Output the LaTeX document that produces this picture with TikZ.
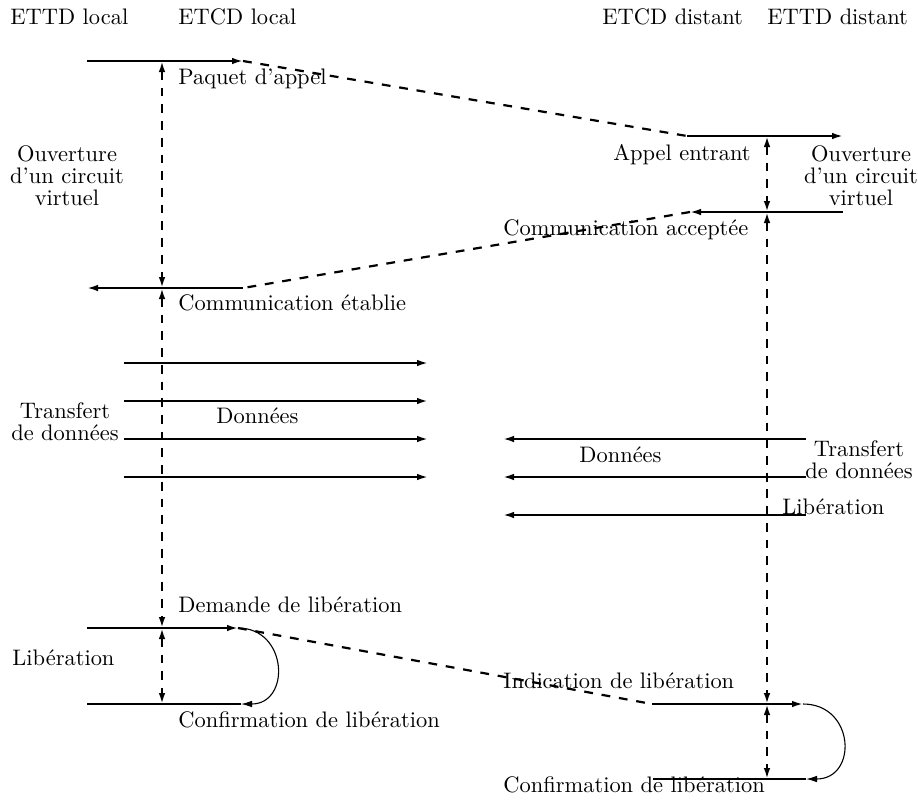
\documentclass[tikz,border=0pt]{standalone}
\usetikzlibrary{arrows.meta}
\begin{document}
\begin{tikzpicture}[x=0.4545pt,y=-0.4545pt,
  every node/.style={inner sep=0pt, font=\fontsize{10.2}{10}\selectfont},
  lbl/.style={anchor=base west},
  lblr/.style={anchor=base east},
  grp/.style={anchor=north, align=center},
  msg/.style={line width=0.9pt},
  thick msg/.style={line width=1.3pt},
  tip/.style={-{Latex[length=5pt,width=3pt]}},
  wait/.style={line width=1.3pt, dash pattern=on 4pt off 3.6pt,
    {Latex[length=5pt,width=3pt]}-{Latex[length=5pt,width=3pt]}},
  link/.style={line width=1pt, dash pattern=on 4pt off 4pt},
  loopc/.style={line width=0.5pt, -{Latex[length=5pt,width=3pt]}}
]
\useasboundingbox (0,0) rectangle (918,806);

% headers
\node[lbl] (h1) at (10,24) {ETTD local};
\node[lbl] (h2) at (178,24) {ETCD local};
\node[lbl] (h3) at (602,24) {ETCD distant};
\node[lbl] (h4) at (767,24) {ETTD distant};

% coordinates
\coordinate (a1) at (87,61);   \coordinate (a2) at (243,61);
\coordinate (b1) at (687,136); \coordinate (b2) at (843,136);
\coordinate (c1) at (843,212); \coordinate (c2) at (690,212);
\coordinate (d1) at (243,288); \coordinate (d2) at (87,288);
\coordinate (L0) at (162,61);  \coordinate (L1) at (162,288);
\coordinate (L2) at (162,628); \coordinate (L3) at (162,704);
\coordinate (R0) at (767,136); \coordinate (R1) at (767,212);
\coordinate (R2) at (767,704); \coordinate (R3) at (767,779);
\coordinate (e1) at (87,628);  \coordinate (e2) at (238,628);
\coordinate (f1) at (87,704);  \coordinate (f2) at (241,704);
\coordinate (g1) at (652,704); \coordinate (g2) at (803,704);
\coordinate (k1) at (653,779); \coordinate (k2) at (806,779);
% data
\coordinate (p1s) at (124,363); \coordinate (p1e) at (428,363);
\coordinate (p2s) at (124,401); \coordinate (p2e) at (428,401);
\coordinate (p3s) at (124,439); \coordinate (p3e) at (428,439);
\coordinate (p4s) at (124,477); \coordinate (p4e) at (428,477);
\coordinate (q1s) at (806,439); \coordinate (q1e) at (503,439);
\coordinate (q2s) at (806,477); \coordinate (q2e) at (503,477);
\coordinate (q3s) at (806,515); \coordinate (q3e) at (503,515);

% call set-up
\draw[msg,tip] (a1) -- (a2);
\draw[link] (a2) -- (b1);
\draw[msg,tip] (b1) -- (b2);
\draw[msg,tip] (c1) -- (c2);
\draw[link] (c2) -- (d1);
\draw[msg,tip] (d1) -- (d2);

% waiting lines
\draw[wait] (L0) -- (L1);
\draw[wait] (L1) -- (L2);
\draw[wait] (L2) -- (L3);
\draw[wait] (R0) -- (R1);
\draw[wait] (R1) -- (R2);
\draw[wait] (R2) -- (R3);

% data transfer
\draw[msg,tip] (p1s) -- (p1e);
\draw[thick msg,tip] (p2s) -- (p2e);
\draw[msg,tip] (p3s) -- (p3e);
\draw[msg,tip] (p4s) -- (p4e);
\draw[msg,tip] (q1s) -- (q1e);
\draw[msg,tip] (q2s) -- (q2e);
\draw[msg,tip] (q3s) -- (q3e);

% release
\draw[msg,tip] (e1) -- (e2);
\draw[msg] (f1) -- (f2);
\draw[loopc] (e2) .. controls +(50,0) and +(50,0) .. (f2);
\draw[link] (e2) -- (g1);
\draw[msg,tip] (g1) -- (g2);
\draw[thick msg] (k1) -- (k2);
\draw[loopc] (g2) .. controls +(52,0) and +(52,0) .. (k2);

% labels
\node[lbl] (t1) at (178,84) {Paquet d'appel};
\node[lblr] (t2) at (751,160) {Appel entrant};
\node[grp] (t3) at (67,145) {Ouverture\\d'un circuit\\virtuel};
\node[grp] (t4) at (861,145) {Ouverture\\d'un circuit\\virtuel};
\node[lbl] (t5) at (503,235) {Communication acceptée};
\node[lbl] (t6) at (178,310) {Communication établie};
\node[grp] (t7) at (65,402) {Transfert\\de données};
\node[lbl] (t8) at (216,423) {Données};
\node[lbl] (t9) at (579,462) {Données};
\node[grp] (t10) at (859,440) {Transfert\\de données};
\node[lbl] (t11) at (782,514) {Libération};
\node[lbl] (t12) at (178,612) {Demande de libération};
\node[lbl] (t13) at (12,665) {Libération};
\node[lbl] (t14) at (178,727) {Confirmation de libération};
\node[lbl] (t15) at (503,688) {Indication de libération};
\node[lbl] (t16) at (503,792) {Confirmation de libération};
\end{tikzpicture}
\end{document}
